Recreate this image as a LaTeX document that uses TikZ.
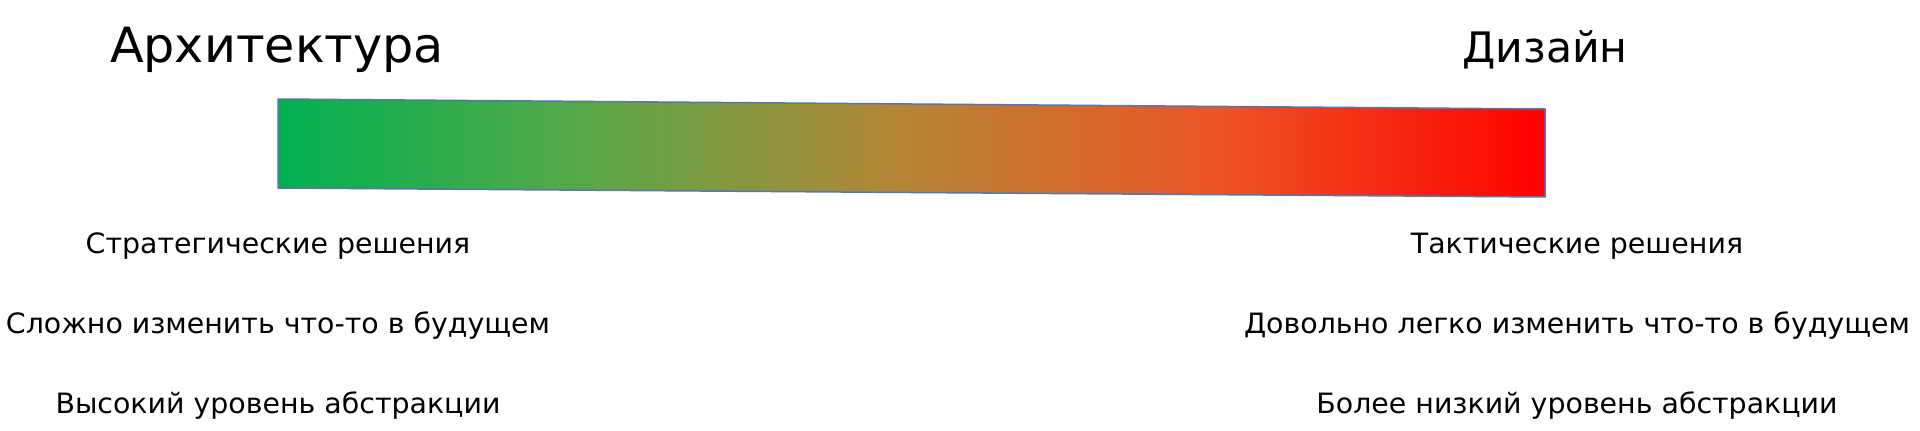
\documentclass[tikz,border=0pt]{standalone}
\usepackage{fontspec}
\setmainfont{DejaVu Sans}
\newfontfamily\handfont[FakeStretch=1.015]{DejaVu Sans}
\usetikzlibrary{positioning}
\definecolor{gA}{RGB}{0,176,80}
\definecolor{gB}{RGB}{88,168,72}
\definecolor{gC}{RGB}{182,134,55}
\definecolor{gD}{RGB}{236,84,40}
\definecolor{gE}{RGB}{255,0,0}
\definecolor{barline}{RGB}{84,120,170}
\pgfdeclarehorizontalshading{bargrad}{100bp}{color(0bp)=(gA); color(25bp)=(gA); color(37bp)=(gB); color(49.5bp)=(gC); color(62bp)=(gD); color(75bp)=(gE); color(100bp)=(gE)}
\tikzset{
  title/.style={font=\handfont\fontsize{48.5}{52}\selectfont, anchor=base, inner sep=0pt},
  titlesmall/.style={font=\handfont\fontsize{42}{46}\selectfont, anchor=base, inner sep=0pt},
  label/.style={font=\handfont\fontsize{28}{31}\selectfont, anchor=base, inner sep=0pt},
}
\begin{document}
\begin{tikzpicture}[x=1pt,y=-1pt]
\useasboundingbox (0,0) rectangle (1920,431);
\fill[white] (0,0) rectangle (1920,431);
\coordinate (b1) at (278,99);
\coordinate (b2) at (1545,109);
\coordinate (b3) at (1545,197);
\coordinate (b4) at (278,188);
\path[shading=bargrad] (b1) -- (b2) -- (b3) -- (b4) -- cycle;
\draw[barline, line width=1.5pt, line join=round] (b1) -- (b2) -- (b3) -- (b4) -- cycle;
\node[title] (arch) at (277,62) {Архитектура};
\node[titlesmall] (design) at (1545,62) {Дизайн};
\node[label] (l1) at (278,253) {Стратегические решения};
\node[label] (l2) at (278,333) {Сложно изменить что-то в будущем};
\node[label] (l3) at (278,413) {Высокий уровень абстракции};
\node[label] (r1) at (1577,253) {Тактические решения};
\node[label] (r2) at (1577,333) {Довольно легко изменить что-то в будущем};
\node[label] (r3) at (1577,413) {Более низкий уровень абстракции};
\end{tikzpicture}
\end{document}
